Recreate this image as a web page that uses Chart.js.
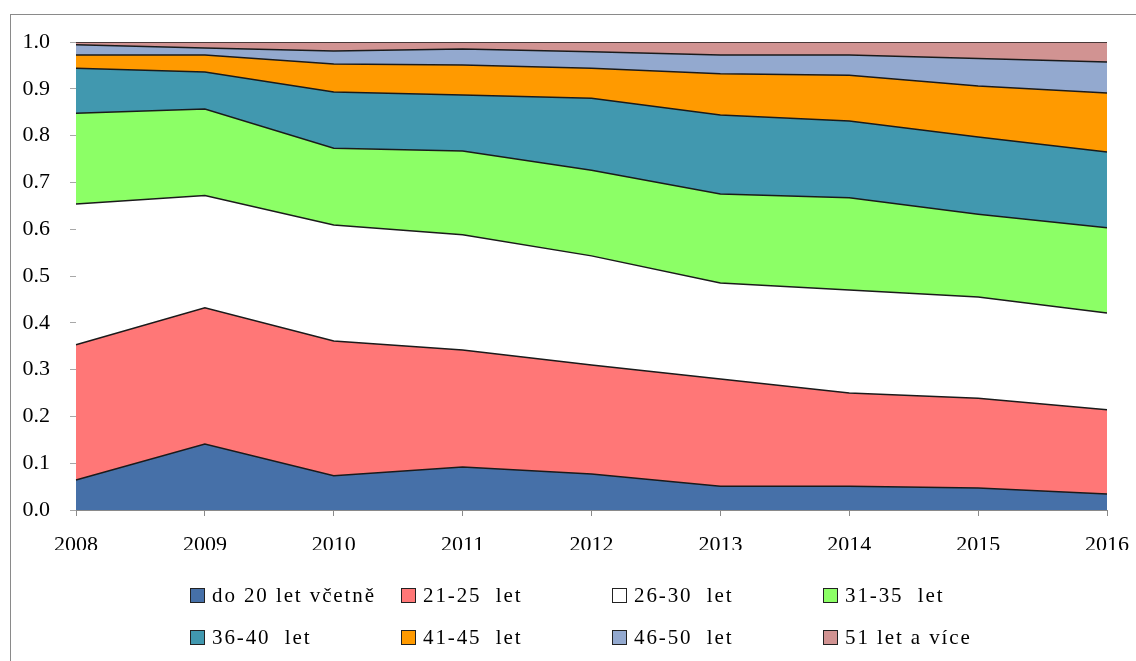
<!DOCTYPE html>
<html>
<head>
<meta charset="utf-8">
<script src="https://cdn.jsdelivr.net/npm/chart.js@4"></script>
<style>
  html, body { margin: 0; padding: 0; background: #fff; }
  #wrap { position: relative; width: 1136px; height: 661px; overflow: hidden; }
  #frame { position: absolute; left: 10px; top: 14px; width: 1200px; height: 700px; border: 1px solid #8a8a8a; }
  #box { position: absolute; left: 0; top: 0; width: 1136px; height: 661px; }
  #legenda { position: absolute; left: 190px; top: 574px; width: 860px;
    font-family: "Liberation Serif", "Times New Roman", serif; font-size: 21px; letter-spacing: 1.9px; color: #000; }
  .polozka { display: inline-flex; align-items: center; width: 211px; height: 42px; white-space: pre; vertical-align: top; }
  .ctverec { width: 13px; height: 13px; border: 1px solid #222; margin-right: 7px; flex: none; }
</style>
</head>
<body>
<div id="wrap">
  <div id="frame"></div>
  <div id="box"><canvas id="graf"></canvas></div>
  <div id="legenda"></div>
</div>
<script>
var roky = ["2008", "2009", "2010", "2011", "2012", "2013", "2014", "2015", "2016"];

var nazvy = ["do 20 let včetně", "21-25  let", "26-30  let", "31-35  let",
             "36-40  let", "41-45  let", "46-50  let", "51 let a více"];
var barvy = ["#4670A8", "#FF7777", "#FFFFFF", "#8CFF66",
             "#4198AF", "#FF9A00", "#93A9CF", "#D19392"];

// podily jednotlivych vekovych skupin
var do20   = [0.064, 0.141, 0.073, 0.092, 0.077, 0.051, 0.051, 0.047, 0.034];
var let2125 = [0.289, 0.291, 0.288, 0.250, 0.233, 0.229, 0.199, 0.192, 0.180];
var let2630 = [0.301, 0.240, 0.248, 0.246, 0.233, 0.205, 0.220, 0.216, 0.207];
var let3135 = [0.194, 0.185, 0.164, 0.179, 0.183, 0.190, 0.197, 0.177, 0.182];
var let3640 = [0.096, 0.079, 0.120, 0.120, 0.154, 0.169, 0.164, 0.165, 0.162];
var let4145 = [0.028, 0.036, 0.060, 0.064, 0.064, 0.088, 0.098, 0.109, 0.126];
var let4650 = [0.022, 0.015, 0.028, 0.034, 0.035, 0.040, 0.043, 0.059, 0.066];
var nad51   = [0.006, 0.013, 0.019, 0.015, 0.021, 0.028, 0.028, 0.035, 0.043];

var serie = [do20, let2125, let2630, let3135, let3640, let4145, let4650, nad51];

var datasety = serie.map(function(hodnoty, i){
    return {
        label: nazvy[i],
        data: hodnoty,
        backgroundColor: barvy[i],
        borderColor: "#1a1a1a",
        borderWidth: 1.5,
        pointRadius: 0,
        tension: 0,
        fill: i == 0 ? "origin" : "-1"
    }
})

var pismo = { family: "'Liberation Serif', 'Times New Roman', serif", size: 22 };

var ctx = document.getElementById("graf").getContext("2d");
var chart = new Chart(ctx, {
    type: "line",
    data: { labels: roky, datasets: datasety },
    options: {
        animation: false,
        responsive: true,
        maintainAspectRatio: false,
        layout: { padding: { left: 10, top: 42, right: 29, bottom: 111 } },
        plugins: { legend: { display: false }, tooltip: { enabled: false } },
        scales: {
            x: {
                offset: false,
                grid: { drawOnChartArea: false, drawTicks: true, tickLength: 6, color: "#8a8a8a" },
                border: { color: "#8a8a8a", width: 1 },
                ticks: { color: "#000", font: pismo, padding: 16, maxRotation: 0 },
                afterFit: function(scale){ scale.height = 40; scale.paddingRight = 0 }
            },
            y: {
                stacked: true,
                min: 0,
                max: 1,
                z: 1,
                grid: { color: "rgba(110,110,110,0.6)", tickLength: 6, lineWidth: 1 },
                border: { color: "#8a8a8a", width: 1 },
                ticks: { stepSize: 0.1, color: "#000", font: pismo, padding: 20,
                    callback: function(v){ return Number(v).toFixed(1) } },
                afterFit: function(scale){ scale.width = 66 }
            }
        }
    }
})

// legenda jako html text
var legenda = document.getElementById("legenda");
nazvy.forEach(function(nazev, i){
    var polozka = document.createElement("span");
    polozka.className = "polozka";
    var ctverec = document.createElement("span");
    ctverec.className = "ctverec";
    ctverec.style.background = barvy[i];
    polozka.appendChild(ctverec);
    polozka.appendChild(document.createTextNode(nazev));
    legenda.appendChild(polozka);
})
</script>
</body>
</html>
